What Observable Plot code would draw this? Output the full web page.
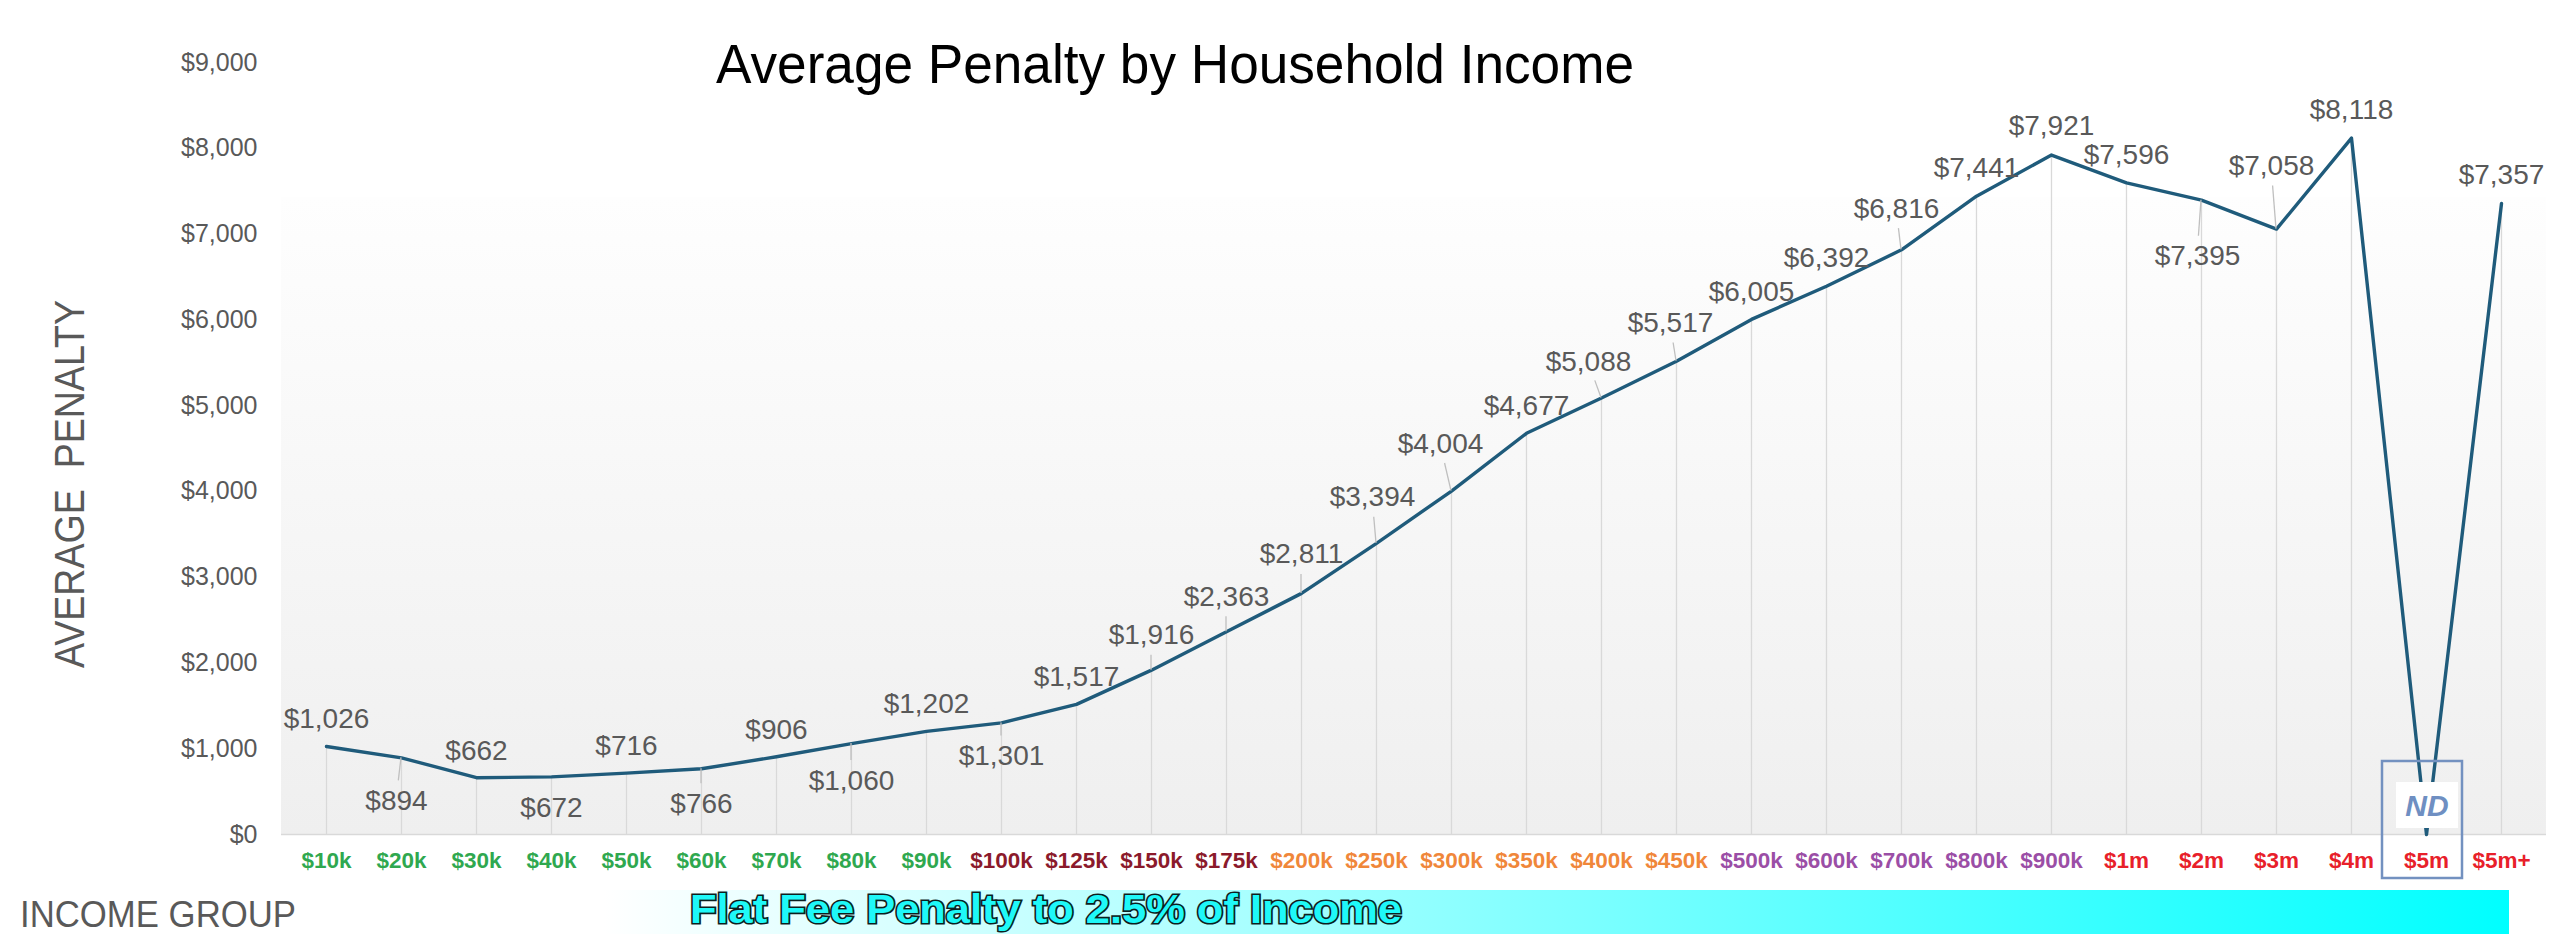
<!DOCTYPE html>
<html>
<head>
<meta charset="utf-8">
<script src="https://cdn.jsdelivr.net/npm/d3@7"></script>
<script src="https://cdn.jsdelivr.net/npm/@observablehq/plot@0.6"></script>
<style>
  html, body { margin: 0; padding: 0; background: #fff; overflow: hidden; }
  #chart svg { display: block; }
</style>
</head>
<body>
<div id="chart"></div>
<script>
// ---------- DATA ----------
const categories = ["$10k","$20k","$30k","$40k","$50k","$60k","$70k","$80k","$90k",
  "$100k","$125k","$150k","$175k",
  "$200k","$250k","$300k","$350k","$400k","$450k",
  "$500k","$600k","$700k","$800k","$900k",
  "$1m","$2m","$3m","$4m","$5m","$5m+"];
// $5m has no data (ND); the reference line drops to 0 there
const penalties = [1026,894,662,672,716,766,906,1060,1202,
  1301,1517,1916,2363,
  2811,3394,4004,4677,5088,5517,
  6005,6392,6816,7441,7921,
  7596,7395,7058,8118,0,7357];
const noDataCategory = "$5m";
const yTicks = [0,1000,2000,3000,4000,5000,6000,7000,8000,9000];
const titleText = "Average Penalty by Household Income";
const yTitleText = "AVERAGE  PENALTY";
const xTitleText = "INCOME GROUP";
const bannerText = "Flat Fee Penalty to 2.5% of Income";
const noDataText = "ND";

// ---------- STYLE / LAYOUT ----------
const green = "#2fa84f", maroon = "#8b1a2b", orange = "#f0873a", purple = "#9b4ea6", red = "#e8202a";
const tickColors = [green,green,green,green,green,green,green,green,green,
  maroon,maroon,maroon,maroon,
  orange,orange,orange,orange,orange,orange,
  purple,purple,purple,purple,purple,
  red,red,red,red,red,red];
// label offsets (px) relative to each point, [dx, dy]
const labelOffsets = [[0,-27],[-5,43],[0,-27],[0,31],[0,-27],[0,35],[0,-27],[0,37],[0,-27],
  [0,33],[0,-27],[0,-35],[0,-35],
  [0,-39],[-4,-46],[-11,-47],[0,-27],[-13,-36],[-6,-38],
  [0,-27],[0,-28],[-5,-41],[0,-28],[0,-29],
  [0,-28],[-4,56],[-5,-63],[0,-28],null,[0,-28]];
const plotAreaTopValue = 7430;
const fontFamily = "'Liberation Sans', Arial, Helvetica, sans-serif";
const lineColor = "#1f5b7b";
const labelColor = "#595959";

const fmt = d3.format("$,");
const rows = categories.map((c, i) => ({
  cat: c, value: penalties[i], i,
  label: c === noDataCategory ? null : fmt(penalties[i])
}));

// group labels by their offset so each group is one text mark
const groups = d3.group(rows.filter(r => r.label && labelOffsets[r.i]), r => labelOffsets[r.i].join(","));
const labelMarks = Array.from(groups, ([key, rs]) => {
  const [dx, dy] = key.split(",").map(Number);
  return Plot.text(rs, {x: "cat", y: "value", text: "label", dx, dy,
    fill: labelColor, fontSize: 28, lineAnchor: "middle", textAnchor: "middle"});
});

function backgroundMark(index, scales, values, dims) {
  const g = d3.create("svg:g");
  const lg = g.append("defs").append("linearGradient").attr("id", "plotBg")
    .attr("x1", 0).attr("y1", 0).attr("x2", 0).attr("y2", 1);
  lg.append("stop").attr("offset", "0%").attr("stop-color", "#fefefe");
  lg.append("stop").attr("offset", "100%").attr("stop-color", "#efefef");
  const top = scales.y(plotAreaTopValue);
  g.append("rect")
    .attr("x", dims.marginLeft).attr("y", top)
    .attr("width", dims.width - dims.marginLeft - dims.marginRight)
    .attr("height", scales.y(0) - top)
    .attr("fill", "url(#plotBg)");
  return g.node();
}

function leaderMark(index, scales) {
  const g = d3.create("svg:g").attr("stroke", "#bfbfbf").attr("stroke-width", 1.3);
  rows.forEach(r => {
    const off = labelOffsets[r.i];
    if (!off || !r.label || Math.abs(off[1]) <= 32) return;
    const px = scales.x(r.cat), py = scales.y(r.value);
    const dist = Math.hypot(off[0], off[1]);
    const len = dist - 20;
    g.append("line").attr("x1", px).attr("y1", py)
      .attr("x2", px + off[0] / dist * len).attr("y2", py + off[1] / dist * len);
  });
  return g.node();
}

function noDataMark(index, scales) {
  const g = d3.create("svg:g");
  const cx = scales.x(noDataCategory), y0 = scales.y(0);
  g.append("rect").attr("x", cx - 30).attr("y", y0 - 52).attr("width", 62).attr("height", 46).attr("fill", "#ffffff");
  g.append("rect").attr("x", cx - 44).attr("y", y0 - 73).attr("width", 80).attr("height", 117)
    .attr("fill", "none").attr("stroke", "#7391c0").attr("stroke-width", 2.5);
  g.append("text").attr("x", cx + 1).attr("y", y0 - 29).attr("dy", "0.35em")
    .attr("text-anchor", "middle").attr("font-size", 30).attr("font-style", "italic").attr("font-weight", "bold")
    .attr("fill", "#6f8fc2").attr("font-family", fontFamily).text(noDataText);
  return g.node();
}

const plot = Plot.plot({
  width: 2560, height: 945,
  marginLeft: 281, marginRight: 14, marginTop: 62, marginBottom: 111,
  style: {fontFamily, fontSize: "25px", color: labelColor, background: "transparent", overflow: "visible"},
  x: {type: "point", domain: categories, padding: 0.5, axis: null},
  y: {domain: [0, 9000], axis: null},
  color: {type: "identity"},
  marks: [
    backgroundMark,
    Plot.ruleX(rows.filter(r => r.value > 0), {x: "cat", y1: 0, y2: "value", stroke: "#d9d9d9", strokeWidth: 1.3}),
    Plot.ruleY([0], {stroke: "#d9d9d9", strokeWidth: 1.5}),
    Plot.axisY({ticks: yTicks, tickFormat: fmt, tickSize: 0, tickPadding: 24, fontSize: 25, label: null}),
    Plot.line(rows, {x: "cat", y: "value", stroke: lineColor, strokeWidth: 3.4}),
    noDataMark,
    leaderMark,
    ...labelMarks,
    Plot.text(categories, {x: d => d, frameAnchor: "bottom", dy: 26, lineAnchor: "middle",
      fill: (d, i) => tickColors[i], fontSize: 22.5, fontWeight: "bold"})
  ]
});

// ---------- decorations: titles and banner ----------
const svg = d3.select(plot);
svg.append("text").attr("x", 716).attr("y", 83).attr("text-anchor", "start")
  .attr("font-family", fontFamily).attr("font-size", 56).attr("fill", "#000")
  .attr("textLength", 918).attr("lengthAdjust", "spacingAndGlyphs").text(titleText);

svg.append("text").attr("transform", "translate(84,484) rotate(-90)")
  .attr("text-anchor", "middle").attr("font-family", fontFamily).attr("font-size", 42)
  .attr("fill", labelColor).attr("textLength", 368).attr("lengthAdjust", "spacingAndGlyphs")
  .attr("xml:space", "preserve").style("white-space", "pre").text(yTitleText);

svg.append("text").attr("x", 20).attr("y", 927).attr("text-anchor", "start")
  .attr("font-family", fontFamily).attr("font-size", 37).attr("fill", labelColor)
  .attr("textLength", 276).attr("lengthAdjust", "spacingAndGlyphs").text(xTitleText);

const bg = svg.append("defs").append("linearGradient").attr("id", "bannerGrad")
  .attr("x1", 0).attr("y1", 0).attr("x2", 1).attr("y2", 0);
bg.append("stop").attr("offset", "0%").attr("stop-color", "#ffffff");
bg.append("stop").attr("offset", "100%").attr("stop-color", "#00ffff");
svg.append("rect").attr("x", 604).attr("y", 890).attr("width", 1905).attr("height", 44).attr("fill", "url(#bannerGrad)");
svg.append("text").attr("x", 690).attr("y", 923).attr("text-anchor", "start")
  .attr("font-family", fontFamily).attr("font-size", 40).attr("font-weight", "bold")
  .attr("fill", "#1ff8f8").attr("stroke", "#0d1f1f").attr("stroke-width", 3.2).attr("paint-order", "stroke")
  .attr("textLength", 712).attr("lengthAdjust", "spacingAndGlyphs").text(bannerText);

document.getElementById("chart").appendChild(plot);
</script>
</body>
</html>
